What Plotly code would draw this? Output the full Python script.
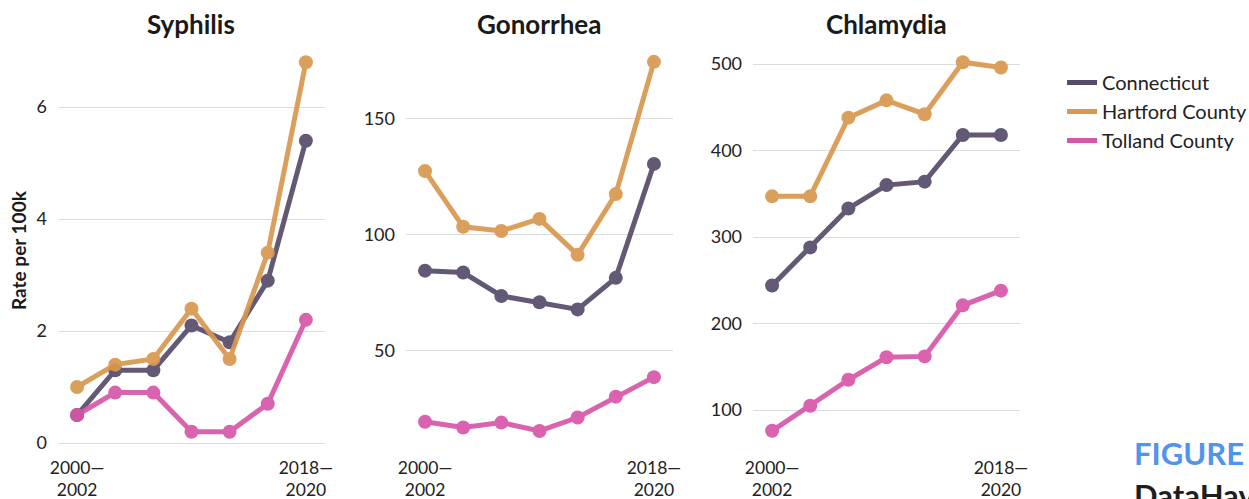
import plotly.graph_objects as go

periods = ["2000—2002", "2003—2005", "2006—2008", "2009—2011", "2012—2014", "2015—2017", "2018—2020"]
tick_vals = ["2000—2002", "2018—2020"]
tick_text = ["2000—<br>2002", "2018—<br>2020"]

diseases = ["Syphilis", "Gonorrhea", "Chlamydia"]
series_names = ["Connecticut", "Hartford County", "Tolland County"]

syphilis_ct = [0.5, 1.3, 1.3, 2.1, 1.8, 2.9, 5.4]
syphilis_hartford = [1.0, 1.4, 1.5, 2.4, 1.5, 3.4, 6.8]
syphilis_tolland = [0.5, 0.9, 0.9, 0.2, 0.2, 0.7, 2.2]

gonorrhea_ct = [84.6, 83.8, 73.7, 71.0, 67.9, 81.5, 130.6]
gonorrhea_hartford = [127.5, 103.5, 101.7, 106.9, 91.4, 117.6, 174.6]
gonorrhea_tolland = [19.5, 17.0, 19.1, 15.5, 21.3, 30.3, 38.7]

chlamydia_ct = [244, 288, 333, 360, 364, 418, 418]
chlamydia_hartford = [347, 347, 438, 458, 442, 502, 496]
chlamydia_tolland = [76, 105, 135, 161, 162, 221, 238]

data = {
    "Syphilis": [syphilis_ct, syphilis_hartford, syphilis_tolland],
    "Gonorrhea": [gonorrhea_ct, gonorrhea_hartford, gonorrhea_tolland],
    "Chlamydia": [chlamydia_ct, chlamydia_hartford, chlamydia_tolland],
}

colors = ["#574b69", "#d9974f", "#d656a9"]
FONT = "Source Sans Pro, Lato, sans-serif"

domains = [[0.0, 0.2775], [0.3617, 0.6393], [0.7225, 1.0]]
y_ranges = [[-0.125, 7.02], [7.3, 179.7], [53.8, 516.2]]
y_dticks = [2, 50, 100]

fig = go.Figure()
for i, d in enumerate(diseases):
    ax = "" if i == 0 else str(i + 1)
    for j, name in enumerate(series_names):
        fig.add_trace(go.Scatter(
            x=periods, y=data[d][j], mode="lines+markers", name=name,
            line=dict(color=colors[j], width=5),
            marker=dict(color=colors[j], size=14),
            opacity=0.92, showlegend=False,
            xaxis="x" + ax, yaxis="y" + ax,
        ))

for j, name in enumerate(series_names):
    fig.add_trace(go.Scatter(
        x=[None], y=[None], mode="lines", name=name,
        line=dict(color=colors[j], width=5), showlegend=True,
    ))

layout = dict(
    width=1249, height=499,
    margin=dict(l=58, r=229, t=50, b=49, autoexpand=False),
    plot_bgcolor="white", paper_bgcolor="white",
    font=dict(family=FONT, size=18, color="#222222"),
    legend=dict(x=1.0437, y=0.9675, xanchor="left", yanchor="top",
                font=dict(family=FONT, size=20, color="#222222"),
                bgcolor="rgba(0,0,0,0)", tracegroupgap=0),
)
annotations = []
for i, d in enumerate(diseases):
    ax = "" if i == 0 else str(i + 1)
    layout["xaxis" + ax] = dict(
        domain=domains[i], anchor="y" + ax, type="category",
        categoryorder="array", categoryarray=periods, automargin=False,
        range=[-0.5, 6.5], tickmode="array", tickvals=tick_vals, ticktext=tick_text,
        showgrid=False, zeroline=False, showline=False, ticks="",
        ticklabelstandoff=5, tickfont=dict(size=17.5, color="#222222"),
    )
    layout["yaxis" + ax] = dict(
        domain=[0, 1], anchor="x" + ax, range=y_ranges[i], dtick=y_dticks[i],
        automargin=False,
        showgrid=True, gridcolor="#dcdcdc", gridwidth=1, zeroline=False,
        showline=False, ticks="", ticklabelstandoff=10,
        tickfont=dict(size=18, color="#222222"),
    )
    annotations.append(dict(
        text="<b>" + d + "</b>", x=sum(domains[i]) / 2, y=1.065,
        xref="paper", yref="paper", showarrow=False,
        font=dict(family=FONT, size=26, color="#1a1a1a"),
        xanchor="center", yanchor="middle",
    ))

annotations.append(dict(
    text="<b>Rate per 100k</b>", x=-0.0416, y=0.5, xref="paper", yref="paper",
    textangle=-90, showarrow=False, font=dict(family=FONT, size=19, color="#1a1a1a"),
    xanchor="center", yanchor="middle",
))
annotations.append(dict(
    text="<b>FIGURE</b>", x=1.1164, y=-0.0075, xref="paper", yref="paper",
    showarrow=False, font=dict(family=FONT, size=31, color="#4f94ef"),
    xanchor="left", yanchor="middle",
))
annotations.append(dict(
    text="<b>DataHaven</b>", x=1.1164, y=-0.1125, xref="paper", yref="paper",
    showarrow=False, font=dict(family=FONT, size=31, color="#1e1e1e"),
    xanchor="left", yanchor="middle",
))
layout["annotations"] = annotations
fig.update_layout(**layout)
fig.write_html(
    "out.html",
    config={"displayModeBar": False},
    post_script="document.body.style.margin='0';document.body.style.padding='0';document.body.style.overflow='hidden';",
)
